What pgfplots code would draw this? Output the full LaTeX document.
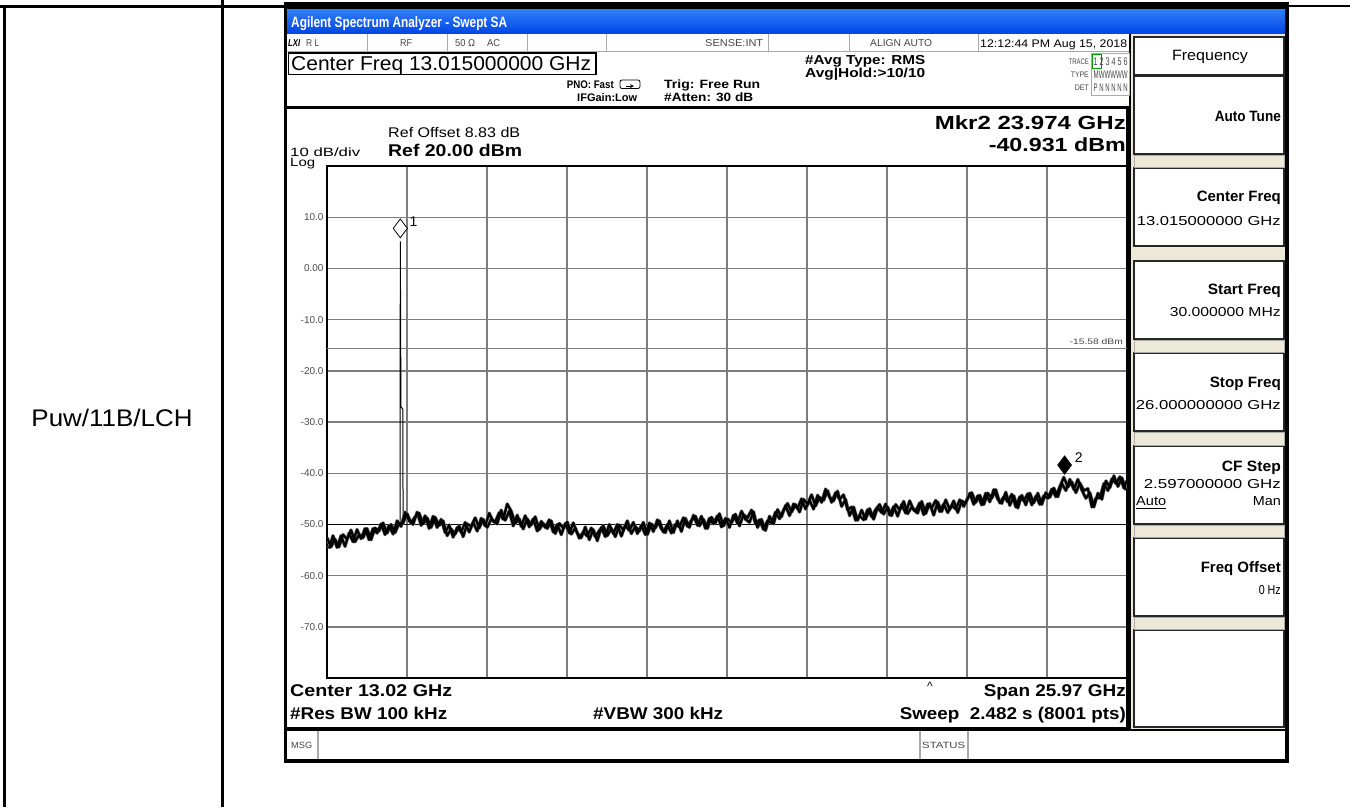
\documentclass[border=0pt]{standalone}
\usepackage{pgfplots}
\usepackage{pgfplotstable}
\pgfplotsset{compat=1.18}
\usepackage{graphicx}
\usepackage{fontspec}
\setmainfont{Liberation Sans}
\newcommand\fs[1]{\fontsize{#1}{#1}\selectfont}
\newcommand\tw[3]{\resizebox{#1pt}{\height}{\fs{#2}#3}}
\definecolor{beige}{RGB}{236,233,216}
\definecolor{tbA}{RGB}{50,125,250}
\definecolor{tbB}{RGB}{0,70,228}
\definecolor{gridc}{RGB}{125,125,125}
\definecolor{stc}{RGB}{70,70,70}
\definecolor{sepc}{RGB}{170,170,170}
\tikzset{L/.style={anchor=base west,inner sep=0pt},R/.style={anchor=base east,inner sep=0pt},C/.style={anchor=base,inner sep=0pt}}
\pgfplotstableread[row sep=\\]{
f y\\
0.03 -52.6\\ 0.16 -54.4\\ 0.29 -52.9\\ 0.42 -54.4\\ 0.55 -52.0\\ 0.68 -52.9\\ 0.81 -51.1\\ 0.94 -53.4\\
1.07 -52.0\\ 1.20 -52.6\\ 1.33 -50.8\\ 1.46 -53.0\\ 1.59 -50.7\\ 1.72 -51.3\\ 1.85 -49.7\\ 1.98 -51.7\\
2.11 -50.0\\ 2.24 -51.6\\ 2.37 -49.8\\ 2.50 -49.7\\
2.63 -47.9\\ 2.76 -49.7\\ 2.89 -48.5\\ 3.02 -47.8\\ 3.15 -49.9\\ 3.28 -48.7\\ 3.41 -50.6\\ 3.54 -48.6\\
3.67 -50.2\\ 3.80 -49.3\\ 3.93 -52.2\\ 4.06 -50.9\\ 4.19 -51.9\\ 4.32 -50.3\\ 4.45 -52.4\\ 4.58 -49.9\\
4.71 -50.4\\ 4.84 -48.7\\ 4.97 -50.7\\ 5.10 -49.0\\ 5.23 -50.6\\ 5.36 -49.0\\ 5.49 -49.5\\ 5.62 -47.7\\
5.75 -49.0\\ 5.88 -46.0\\ 6.01 -47.4\\ 6.14 -49.8\\ 6.27 -48.9\\ 6.40 -50.9\\ 6.53 -48.9\\ 6.66 -50.1\\
6.79 -48.5\\ 6.92 -51.0\\ 7.05 -49.8\\ 7.18 -50.8\\ 7.31 -49.3\\ 7.44 -51.8\\ 7.57 -49.8\\ 7.70 -50.7\\
7.83 -49.5\\ 7.96 -51.9\\ 8.09 -50.7\\ 8.22 -52.7\\ 8.35 -51.5\\ 8.48 -52.3\\ 8.61 -50.7\\ 8.74 -52.4\\
8.87 -51.2\\ 9.00 -50.3\\ 9.13 -52.2\\ 9.26 -50.8\\ 9.39 -52.4\\ 9.52 -50.1\\ 9.65 -51.1\\ 9.78 -49.3\\
9.91 -51.8\\ 10.04 -50.4\\ 10.17 -51.3\\ 10.30 -49.6\\ 10.43 -52.0\\ 10.56 -49.9\\ 10.69 -50.7\\ 10.82 -49.3\\
10.95 -51.5\\ 11.08 -50.0\\ 11.21 -51.7\\ 11.34 -50.0\\ 11.47 -50.5\\ 11.60 -48.7\\ 11.73 -50.4\\ 11.86 -49.2\\
11.99 -48.4\\ 12.12 -50.3\\ 12.25 -49.0\\ 12.38 -50.8\\ 12.51 -48.6\\ 12.64 -49.7\\ 12.77 -47.9\\ 12.90 -50.3\\
13.03 -48.9\\ 13.16 -49.7\\ 13.29 -48.0\\ 13.42 -50.3\\ 13.55 -48.1\\ 13.68 -48.7\\ 13.81 -47.2\\ 13.94 -49.9\\
14.07 -49.1\\ 14.20 -51.0\\ 14.33 -49.3\\ 14.46 -49.7\\ 14.59 -47.6\\ 14.72 -48.9\\ 14.85 -47.2\\ 14.98 -45.9\\
15.11 -47.6\\ 15.24 -46.1\\ 15.37 -47.6\\ 15.50 -45.1\\ 15.63 -46.0\\ 15.76 -44.2\\ 15.89 -46.4\\ 16.02 -44.7\\
16.15 -45.3\\ 16.28 -43.4\\ 16.41 -45.7\\ 16.54 -43.8\\ 16.67 -45.1\\ 16.80 -44.2\\ 16.93 -47.2\\ 17.06 -46.6\\
17.19 -49.2\\ 17.32 -48.3\\ 17.45 -49.1\\ 17.58 -47.1\\ 17.71 -48.5\\ 17.84 -47.1\\ 17.97 -46.1\\ 18.10 -48.0\\
18.23 -46.6\\ 18.36 -48.3\\ 18.49 -46.1\\ 18.62 -47.2\\ 18.75 -45.5\\ 18.88 -47.9\\ 19.01 -46.6\\ 19.14 -47.4\\
19.27 -45.8\\ 19.40 -48.1\\ 19.53 -46.0\\ 19.66 -46.8\\ 19.79 -45.3\\ 19.92 -47.5\\ 20.05 -46.0\\ 20.18 -47.7\\
20.31 -46.3\\ 20.44 -47.0\\ 20.57 -45.2\\ 20.70 -46.5\\ 20.83 -44.8\\ 20.96 -43.8\\ 21.09 -45.7\\ 21.22 -44.3\\
21.35 -46.1\\ 21.48 -43.9\\ 21.61 -44.9\\ 21.74 -43.2\\ 21.87 -45.8\\ 22.00 -44.6\\ 22.13 -45.6\\ 22.26 -44.1\\
22.39 -46.6\\ 22.52 -44.6\\ 22.65 -45.4\\ 22.78 -44.0\\ 22.91 -46.2\\ 23.04 -44.5\\ 23.17 -46.1\\ 23.30 -44.4\\
23.43 -44.9\\ 23.56 -43.1\\ 23.69 -44.6\\ 23.82 -42.6\\ 23.95 -40.8\\ 24.08 -42.7\\ 24.21 -41.7\\ 24.34 -43.8\\
24.47 -41.9\\ 24.60 -43.4\\ 24.73 -43.0\\ 24.86 -46.6\\ 24.99 -44.9\\ 25.12 -44.8\\ 25.25 -42.0\\ 25.38 -43.4\\
25.51 -41.1\\ 25.64 -42.0\\ 25.77 -40.7\\ 25.90 -42.9\\ 26.00 -41.4\\
}\noise
\pgfplotstableread[row sep=\\]{
f y\\
0.095 -54.7\\ 0.225 -52.2\\ 0.355 -54.5\\ 0.485 -52.2\\ 0.615 -54.3\\ 0.745 -51.7\\ 0.875 -53.4\\ 1.005 -51.0\\
1.135 -52.8\\ 1.265 -50.8\\ 1.395 -53.0\\ 1.525 -50.8\\ 1.655 -51.7\\ 1.785 -49.9\\ 1.915 -52.0\\ 2.045 -50.2\\
2.175 -51.9\\ 2.305 -49.3\\ 2.435 -50.4\\ 2.565 -47.6\\ 2.695 -49.3\\ 2.825 -50.0\\ 2.955 -47.6\\ 3.085 -50.2\\
3.215 -48.3\\ 3.345 -50.8\\ 3.475 -48.4\\ 3.605 -50.6\\ 3.735 -49.0\\ 3.865 -51.6\\ 3.995 -50.1\\ 4.125 -52.5\\
4.255 -50.6\\ 4.385 -51.5\\ 4.515 -49.6\\ 4.645 -51.5\\ 4.775 -49.6\\ 4.905 -51.3\\ 5.035 -48.8\\ 5.165 -50.3\\
5.295 -47.8\\ 5.425 -49.4\\ 5.555 -49.9\\ 5.685 -47.2\\ 5.815 -49.2\\ 5.945 -47.4\\ 6.075 -50.3\\ 6.205 -48.2\\
6.335 -50.4\\ 6.465 -48.3\\ 6.595 -50.5\\ 6.725 -48.9\\ 6.855 -51.3\\ 6.985 -49.4\\ 7.115 -50.6\\ 7.245 -49.1\\
7.375 -51.5\\ 7.505 -50.0\\ 7.635 -52.0\\ 7.765 -49.8\\ 7.895 -51.7\\ 8.025 -49.7\\ 8.155 -51.7\\ 8.285 -52.6\\
8.415 -50.5\\ 8.545 -53.0\\ 8.675 -51.0\\ 8.805 -53.2\\ 8.935 -50.6\\ 9.065 -52.4\\ 9.195 -50.0\\ 9.325 -51.8\\
9.455 -50.0\\ 9.585 -52.3\\ 9.715 -50.2\\ 9.845 -51.2\\ 9.975 -49.6\\ 10.105 -51.8\\ 10.235 -50.2\\ 10.365 -52.0\\
10.495 -49.7\\ 10.625 -51.4\\ 10.755 -49.1\\ 10.885 -50.9\\ 11.015 -51.6\\ 11.145 -49.3\\ 11.275 -51.6\\ 11.405 -49.3\\
11.535 -51.4\\ 11.665 -48.8\\ 11.795 -50.6\\ 11.925 -48.2\\ 12.055 -50.2\\ 12.185 -48.4\\ 12.315 -50.8\\ 12.445 -48.8\\
12.575 -49.9\\ 12.705 -48.3\\ 12.835 -50.5\\ 12.965 -48.8\\ 13.095 -50.6\\ 13.225 -48.2\\ 13.355 -49.8\\ 13.485 -47.4\\
13.615 -49.0\\ 13.745 -49.6\\ 13.875 -47.5\\ 14.005 -50.6\\ 14.135 -49.0\\ 14.265 -51.2\\ 14.395 -48.4\\ 14.525 -49.9\\
14.655 -47.1\\ 14.785 -48.5\\ 14.915 -46.3\\ 15.045 -48.3\\ 15.175 -46.0\\ 15.305 -46.9\\ 15.435 -45.0\\ 15.565 -47.0\\
15.695 -45.3\\ 15.825 -47.0\\ 15.955 -44.3\\ 16.085 -45.7\\ 16.215 -43.1\\ 16.345 -44.7\\ 16.475 -45.4\\ 16.605 -43.5\\
16.735 -46.5\\ 16.865 -45.1\\ 16.995 -48.3\\ 17.125 -46.6\\ 17.255 -49.2\\ 17.385 -47.2\\ 17.515 -49.0\\ 17.645 -46.9\\
17.775 -49.0\\ 17.905 -46.7\\ 18.035 -47.7\\ 18.165 -46.0\\ 18.295 -48.2\\ 18.425 -46.5\\ 18.555 -48.4\\ 18.685 -46.1\\
18.815 -47.8\\ 18.945 -45.4\\ 19.075 -47.2\\ 19.205 -47.8\\ 19.335 -45.5\\ 19.465 -47.9\\ 19.595 -45.9\\ 19.725 -48.2\\
19.855 -45.6\\ 19.985 -47.5\\ 20.115 -45.2\\ 20.245 -47.1\\ 20.375 -45.4\\ 20.505 -47.7\\ 20.635 -45.4\\ 20.765 -45.9\\
20.895 -43.9\\ 21.025 -46.1\\ 21.155 -44.4\\ 21.285 -46.2\\ 21.415 -43.9\\ 21.545 -45.6\\ 21.675 -43.2\\ 21.805 -45.1\\
21.935 -45.9\\ 22.065 -43.7\\ 22.195 -46.3\\ 22.325 -44.4\\ 22.455 -46.8\\ 22.585 -44.3\\ 22.715 -46.2\\ 22.845 -43.9\\
22.975 -45.8\\ 23.105 -43.9\\ 23.235 -46.1\\ 23.365 -43.8\\ 23.495 -44.7\\ 23.625 -42.9\\ 23.755 -44.6\\ 23.885 -42.0\\
24.015 -43.4\\ 24.145 -41.2\\ 24.275 -43.2\\ 24.405 -41.2\\ 24.535 -43.3\\ 24.665 -44.9\\ 24.795 -43.8\\ 24.925 -46.6\\
25.055 -43.9\\ 25.185 -45.1\\ 25.315 -41.5\\ 25.445 -42.8\\ 25.575 -40.5\\ 25.705 -42.6\\ 25.835 -40.9\\ 25.965 -43.3\\
}\noisetwo
\pgfplotstableread[row sep=\\]{
f y\\
2.37 -49.8\\ 2.40 -49.5\\ 2.41 5.3\\ 2.43 -27.0\\ 2.49 -27.5\\ 2.50 -49.7\\
}\carrier
\begin{document}
\begin{tikzpicture}
\useasboundingbox (0,0) rectangle (1350pt,-807pt);
\begin{scope}[x=1pt,y=-1pt]
\fill[white] (0,0) rectangle (1350,807);
% table lines
\draw[line width=3pt] (0,6) -- (285,6);
\draw[line width=3pt] (4,6) -- (4,807);
\draw[line width=3pt] (222,0) -- (222,807);
\draw[line width=2pt] (1289,6) -- (1350,6);
\node[C] at (112,426.5) {\tw{161}{24}{Puw/11B/LCH}};
% screen frame
\fill[black] (284,2) rectangle (1289,763);
\shade[top color=tbA, bottom color=tbB] (287,9.5) rectangle (1285,33.5);
\fill[white] (287,34) rectangle (1129,105.5);
\fill[beige] (1131,34) rectangle (1285,729);
\fill[white] (287,108.5) rectangle (1126,727);
\fill[white] (287,730.5) rectangle (1285,759);
% title
\node[L,text=white] at (291,27.5) {\tw{216}{15}{\bfseries Agilent Spectrum Analyzer - Swept SA}};
% status row
\draw[sepc,line width=1pt] (287,51) -- (1129,51);
\foreach \xx in {367,447,527,606,768,849,978} {\draw[sepc,line width=1pt] (\xx,34) -- (\xx,51);}
\node[L,text=black] at (288,46.6) {\tw{12}{10}{\bfseries\itshape LXI}};
\node[L,text=stc] at (306,46.6) {\tw{13}{10}{R L}};
\node[L,text=stc] at (400,46.6) {\tw{12}{10}{RF}};
\node[L,text=stc] at (455,46.6) {\tw{20}{10}{50 Ω}};
\node[L,text=stc] at (487,46.6) {\tw{13}{10}{AC}};
\node[L,text=stc] at (705,46.6) {\tw{58}{10}{SENSE:INT}};
\node[L,text=stc] at (870,46.6) {\tw{62}{10}{ALIGN AUTO}};
\node[L,text=black] at (980,47) {\tw{147}{11}{12:12:44 PM Aug 15, 2018}};
% center freq box
\draw[line width=1.5pt] (288.5,53) rectangle (596,74.5);
\node[L] at (291,70) {\tw{300}{20}{Center Freq 13.015000000 GHz}};
\node[R] at (614,88) {\tw{47}{11}{\bfseries PNO: Fast}};
\node[L] at (577,101) {\tw{60}{11}{\bfseries IFGain:Low}};
\draw[line width=0.8pt,rounded corners=2pt] (620,80) rectangle (640,88.5);
\draw[line width=0.8pt,-stealth] (626,86) -- (634,86);
\node[L] at (664,88.3) {\tw{96}{12}{\bfseries Trig: Free Run}};
\node[L] at (664,101.3) {\tw{89}{12}{\bfseries \#Atten: 30 dB}};
\node[L] at (805,64.7) {\tw{120}{13}{\bfseries \#Avg Type: RMS}};
\node[L] at (805,77.7) {\tw{120}{13}{\bfseries Avg|Hold:>10/10}};
\draw[sepc,line width=0.8pt] (1091,53) rectangle (1129,95);
\draw[green!60!black,line width=0.8pt] (1092,54) rectangle (1101.5,68);
\node[R,text=stc] at (1089,64) {\tw{20}{8}{TRACE}};
\node[R,text=stc] at (1089,77) {\tw{18}{8}{TYPE}};
\node[R,text=stc] at (1089,90) {\tw{14}{8}{DET}};
\node[L,text=stc] at (1093.5,65) {\tw{34}{11}{1 2 3 4 5 6}};
\node[L,text=stc] at (1093.5,78) {\tw{34}{11}{MWWWWW}};
\node[L,text=stc] at (1093.5,91) {\tw{34}{11}{P N N N N N}};
% graticule texts
\node[L] at (388,137) {\tw{132}{14}{Ref Offset 8.83 dB}};
\node[L] at (290,156) {\tw{70}{12}{10 dB/div}};
\node[L] at (388,156) {\tw{134}{17}{\bfseries Ref 20.00 dBm}};
\node[L] at (290,166.5) {\tw{25}{12}{Log}};
\node[R] at (1126,129) {\tw{191}{19}{\bfseries Mkr2 23.974 GHz}};
\node[R] at (1126,151) {\tw{137}{19}{\bfseries -40.931 dBm}};
\node[R,text=stc] at (1123,344) {\tw{53}{8}{-15.58 dBm}};
\node[L] at (290,696) {\tw{162}{17}{\bfseries Center 13.02 GHz}};
\node[L] at (290,719) {\tw{157}{17}{\bfseries \#Res BW 100 kHz}};
\node[L] at (593,719) {\tw{130}{17}{\bfseries \#VBW 300 kHz}};
\node[R] at (1126,696) {\tw{142}{17}{\bfseries Span 25.97 GHz}};
\node[R] at (1126,719) {\tw{226}{17}{\bfseries Sweep\ \ 2.482 s (8001 pts)}};
\node[C] at (930,690) {\fs{12}\textasciicircum};
% msg bar
\draw[sepc,line width=1.2pt] (318,731) -- (318,759);
\draw[sepc,line width=1.2pt] (920,731) -- (920,759);
\draw[sepc,line width=1.2pt] (968,731) -- (968,759);
\node[L,text=stc] at (291,748.5) {\tw{21}{9}{MSG}};
\node[L,text=stc] at (922,748.5) {\tw{43}{9}{STATUS}};
% softkeys
\foreach \ya/\yb in {37/75,76/154,168/246,261/339,353/431,446/524,538/616,630/727}
  {\fill[white] (1134,\ya) rectangle (1284,\yb);
   \draw[black!85,line width=1.2pt] (1134,\ya) rectangle (1284,\yb);}
\foreach \ya/\yb in {155/167,340/352,432/445,525/537,617/629}
  {\draw[sepc,line width=0.8pt] (1134,\ya) rectangle (1284,\yb);}
\node[C] at (1210,60.4) {\tw{76}{15}{Frequency}};
\node[R] at (1281,121.4) {\tw{66}{15}{\bfseries Auto Tune}};
\node[R] at (1281,201.4) {\tw{84}{15}{\bfseries Center Freq}};
\node[R] at (1281,225.7) {\tw{144}{13}{13.015000000 GHz}};
\node[R] at (1281,294.4) {\tw{73}{15}{\bfseries Start Freq}};
\node[R] at (1281,316.7) {\tw{111}{13}{30.000000 MHz}};
\node[R] at (1281,387.4) {\tw{71}{15}{\bfseries Stop Freq}};
\node[R] at (1281,409.7) {\tw{145}{13}{26.000000000 GHz}};
\node[R] at (1281,471.4) {\tw{59}{15}{\bfseries CF Step}};
\node[R] at (1281,488.7) {\tw{137}{13}{2.597000000 GHz}};
\node[L] at (1136,505.7) {\tw{30}{13}{Auto}};
\draw[line width=0.8pt] (1136,508) -- (1166,508);
\node[R] at (1281,505.7) {\tw{28}{13}{Man}};
\node[R] at (1281,572.4) {\tw{80}{15}{\bfseries Freq Offset}};
\node[R] at (1281,594.7) {\tw{22}{13}{0 Hz}};
\end{scope}
\begin{axis}[
  at={(327pt,-678pt)}, anchor=south west, scale only axis,
  width=800pt, height=512pt,
  xmin=0.03, xmax=26, ymin=-80, ymax=20,
  xtick={2.627,5.224,7.821,10.418,13.015,15.612,18.209,20.806,23.403},
  xticklabels={},
  ytick={-70,-60,-50,-40,-30,-20,-10,0,10},
  yticklabels={-70.0,-60.0,-50.0,-40.0,-30.0,-20.0,-10.0,0.00,10.0},
  major tick length=0pt,
  grid=major, major grid style={draw=gridc, line width=1.4pt},
  axis line style={line width=2.6pt},
  yticklabel style={font=\fs{10}, text=black!70},
]
\addplot[black, line width=1pt] coordinates {(0.03,-50) (26,-50)};
\addplot[gridc, line width=0.8pt] coordinates {(0.03,-15.58) (26,-15.58)};
\addplot[black, line width=1pt] table {\carrier};
\addplot[black!50, line width=3.4pt, line join=round] table {\noise};
\addplot[black!50, line width=3.4pt, line join=round] table {\noisetwo};
\addplot[black, line width=2.2pt, line join=round] table {\noise};
\addplot[black, line width=2.2pt, line join=round] table {\noisetwo};
\addplot[only marks, mark=diamond*, mark size=9.4pt, mark options={fill=white, draw=black, line width=0.8pt, yshift=12.9pt}] coordinates {(2.41,5.3)};
\addplot[only marks, mark=diamond*, mark size=9.4pt, mark options={fill=black, draw=black, yshift=12.9pt}] coordinates {(23.974,-40.93)};
\node[anchor=base west, inner sep=0pt, font=\fs{14}] at (axis cs:2.41,5.3) [xshift=9pt, yshift=15pt] {1};
\node[anchor=base west, inner sep=0pt, font=\fs{14}] at (axis cs:23.974,-40.93) [xshift=10pt, yshift=15pt] {2};
\end{axis}
\end{tikzpicture}
\end{document}
